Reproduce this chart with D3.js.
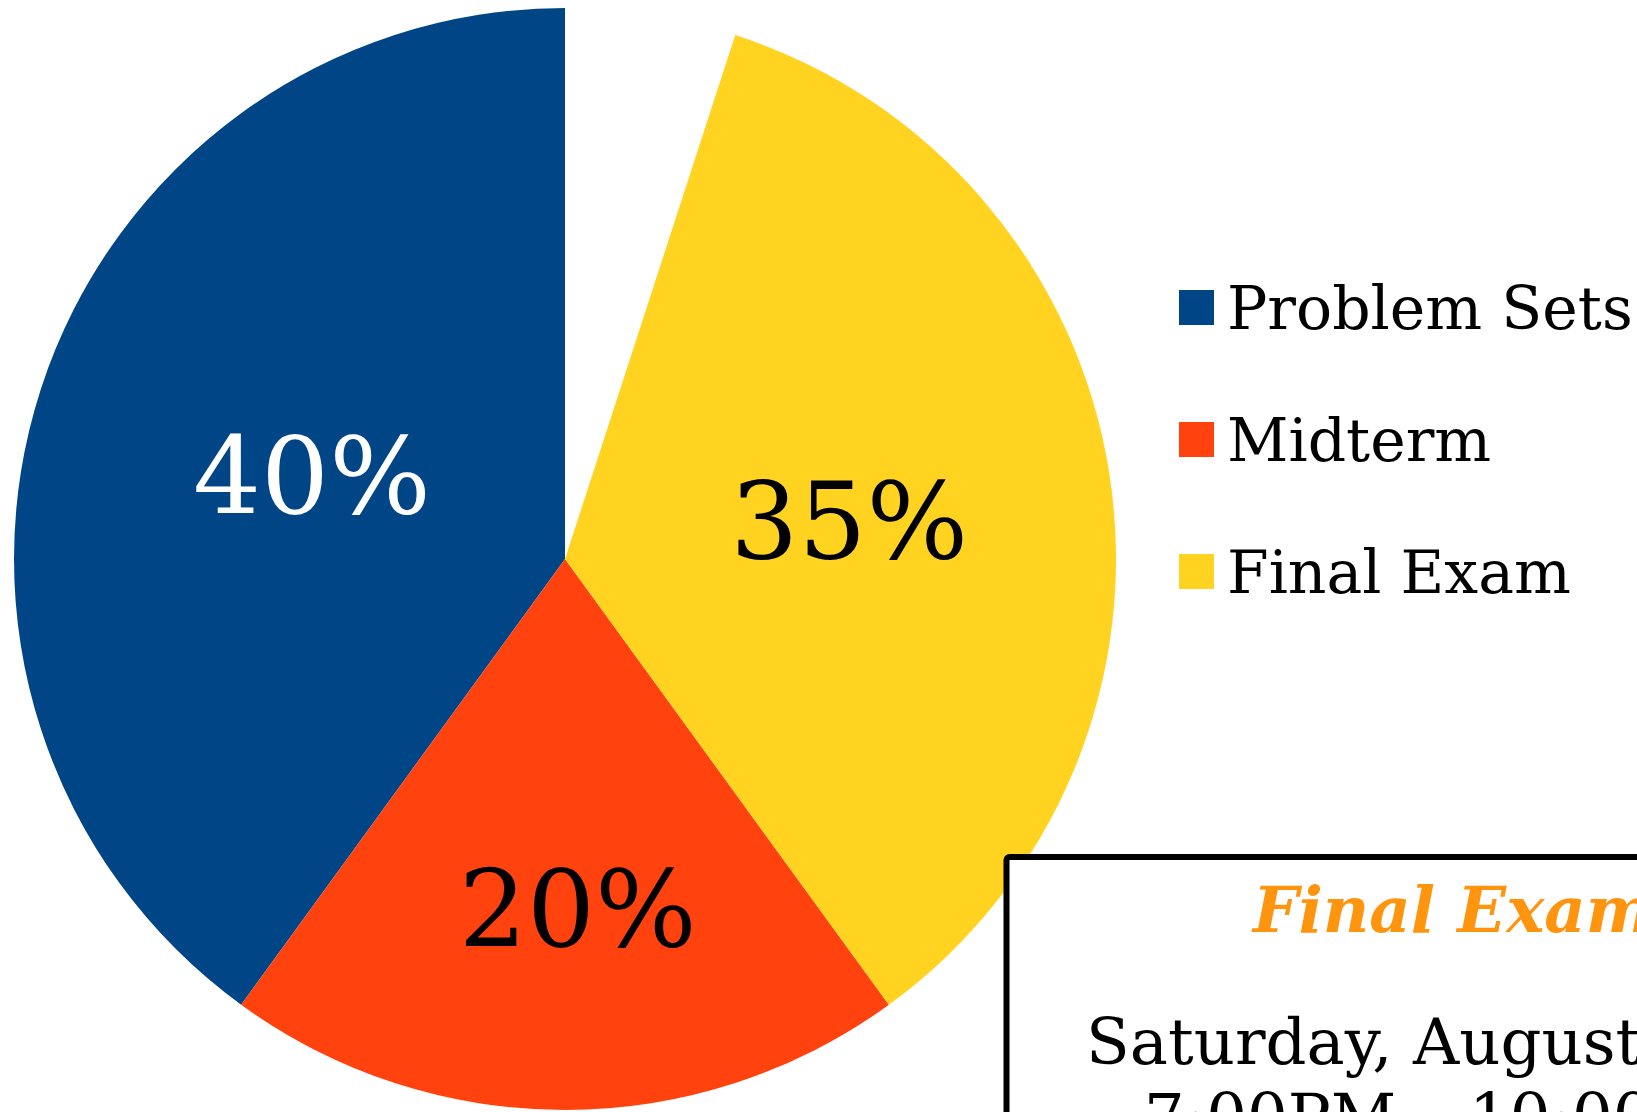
<!DOCTYPE html>
<html>
<head>
<meta charset="utf-8">
<script src="https://cdn.jsdelivr.net/npm/d3@7/dist/d3.min.js"></script>
<style>
  html, body { margin: 0; padding: 0; background: #fff; overflow: hidden; }
  svg { display: block; font-family: "DejaVu Serif", serif; }
</style>
</head>
<body>
<svg id="chart" width="1637" height="1112"></svg>
<script>
// ---- data ----
const categories = ["Problem Sets", "Midterm", "Final Exam"];
const weights = [40, 20, 35];
const labels = ["40%", "20%", "35%"];
const colors = ["#004586", "#ff420e", "#ffd320"];
const labelColors = ["#ffffff", "#000000", "#000000"];
const noteTitle = "Final Exam";
const noteLines = ["Saturday, August", "7:00PM – 10:00"];

// ---- layout ----
const svg = d3.select("#chart");
const cx = 565, cy = 559, R = 551;
const total = d3.sum(weights);
// label placement (fraction of radius, angle tweak in degrees) per slice
const labelRadius = [0.484, 0.633, 0.521];
const labelAngleTweak = [0.4, -2.1, 1.0];

const pie = d3.pie().sort(null).value(d => d)
  .startAngle(0).endAngle(-2 * Math.PI * total / 100);
const arcs = pie(weights);
const arc = d3.arc().innerRadius(0).outerRadius(R);

const g = svg.append("g").attr("transform", `translate(${cx},${cy})`);
g.selectAll("path.slice").data(arcs).enter().append("path")
  .attr("class", "slice")
  .attr("d", arc)
  .attr("fill", (d, i) => colors[i]);

g.selectAll("text.lbl").data(arcs).enter().append("text")
  .attr("class", "lbl")
  .attr("transform", (d, i) => {
    const a = (d.startAngle + d.endAngle) / 2 + labelAngleTweak[i] * Math.PI / 180;
    const r = R * labelRadius[i];
    return `translate(${r * Math.sin(a)},${-r * Math.cos(a)})`;
  })
  .attr("text-anchor", "middle")
  .attr("dy", "0.36em")
  .attr("font-size", 107)
  .attr("fill", (d, i) => labelColors[i])
  .text((d, i) => labels[i]);

// legend
const legend = svg.append("g").attr("transform", "translate(1179,290)");
const li = legend.selectAll("g").data(categories).enter().append("g")
  .attr("transform", (d, i) => `translate(0,${i * 132})`);
li.append("rect").attr("width", 35).attr("height", 35)
  .attr("fill", (d, i) => colors[i]);
li.append("text").attr("x", 48).attr("y", 39)
  .attr("font-size", 60).attr("fill", "#000").text(d => d);

// note box
svg.append("rect")
  .attr("x", 1006.5).attr("y", 857)
  .attr("width", 800).attr("height", 400)
  .attr("rx", 3).attr("ry", 3)
  .attr("fill", "#fff").attr("stroke", "#000").attr("stroke-width", 6);
svg.append("text")
  .attr("x", 1253).attr("y", 932)
  .attr("font-size", 64).attr("font-weight", "bold").attr("font-style", "italic")
  .attr("fill", "#ff950e").text(noteTitle);
svg.append("text").attr("x", 1086).attr("y", 1064)
  .attr("font-size", 64).attr("fill", "#000").text(noteLines[0]);
svg.append("text").attr("x", 1144).attr("y", 1139)
  .attr("font-size", 64).attr("fill", "#000").text(noteLines[1]);
</script>
</body>
</html>
